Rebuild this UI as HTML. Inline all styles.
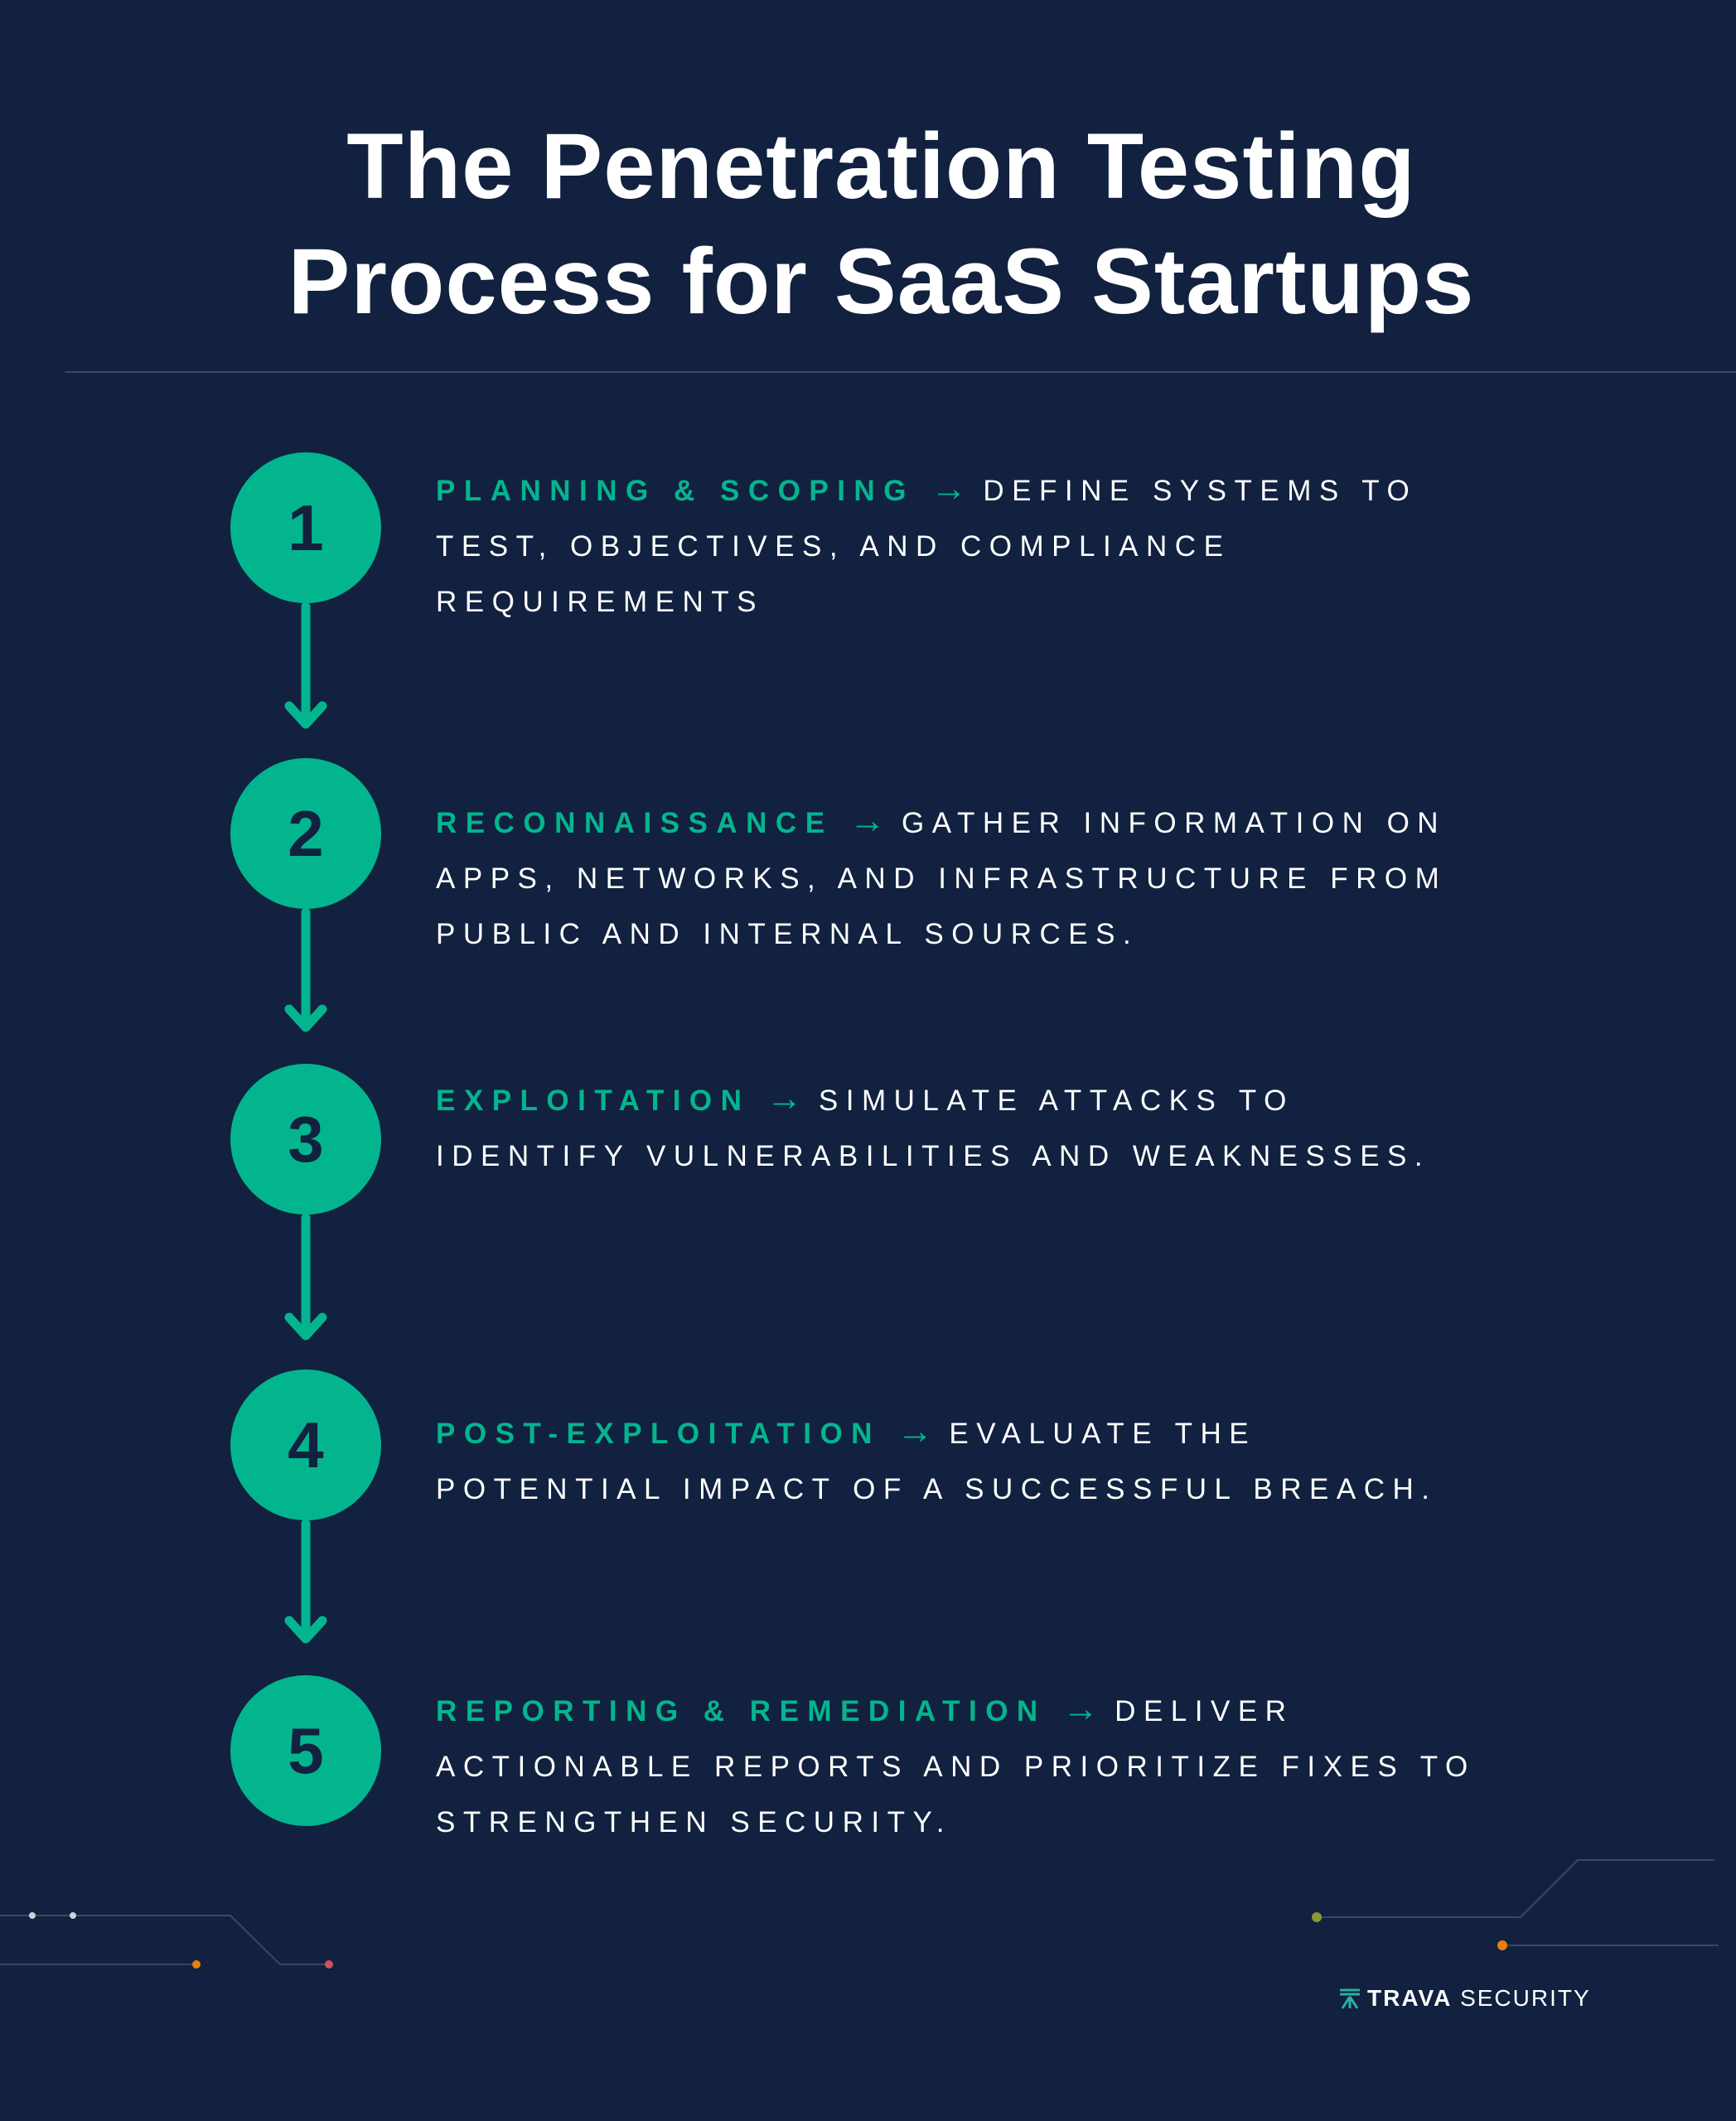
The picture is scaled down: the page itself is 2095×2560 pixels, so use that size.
<!DOCTYPE html>
<html><head><meta charset="utf-8"><style>
html,body{margin:0;padding:0}
body{width:2095px;height:2560px;background:#11213f;position:relative;overflow:hidden;font-family:"Liberation Sans",sans-serif}
.title{position:absolute;left:16px;width:2095px;text-align:center;color:#fff;font-weight:bold;font-size:112px;letter-spacing:1px;line-height:1}
.c{position:absolute;left:278px;width:182px;height:182px;border-radius:50%;background:#03b58e;color:#11213f;font-weight:bold;font-size:78px;text-align:center;line-height:182px}
.t{position:absolute;left:526px;color:#fff;font-size:35px;letter-spacing:9.5px;line-height:1;white-space:nowrap}
.g{color:#03b58e;font-weight:bold;letter-spacing:10.5px}
.a{color:#03b58e;font-size:44px;font-weight:bold;letter-spacing:0;line-height:0}
</style></head><body>
<div class="title" style="top:145px">The Penetration Testing</div>
<div class="title" style="top:284px">Process for SaaS Startups</div>
<div style="position:absolute;left:78px;top:448px;width:2017px;height:2px;background:#3a4862"></div>

<div class="c" style="top:546px">1</div>
<div class="c" style="top:915px">2</div>
<div class="c" style="top:1284px">3</div>
<div class="c" style="top:1653px">4</div>
<div class="c" style="top:2022px">5</div>

<svg width="2095" height="2560" style="position:absolute;left:0;top:0" fill="none">
<g stroke="#03b58e" stroke-width="11" stroke-linecap="round" stroke-linejoin="round">
<path d="M369 732V872M349 852L369 874L389 852"/>
<path d="M369 1101V1238M349 1218L369 1240L389 1218"/>
<path d="M369 1470V1610M349 1590L369 1612L389 1590"/>
<path d="M369 1839V1976M349 1956L369 1978L389 1956"/>
</g>
<g stroke="#3a4862" stroke-width="2">
<path d="M0 2312H278L338 2371H397"/>
<path d="M0 2371H237"/>
<path d="M1589 2314H1835L1904 2245H2069"/>
<path d="M1813 2348H2074"/>
</g>
<circle cx="39" cy="2312" r="4" fill="#c8d4dc"/>
<circle cx="88" cy="2312" r="4" fill="#c8d4dc"/>
<circle cx="237" cy="2371" r="5" fill="#e8800a"/>
<circle cx="397" cy="2371" r="5" fill="#d05060"/>
<circle cx="1589" cy="2314" r="6" fill="#8a9a30"/>
<circle cx="1813" cy="2348" r="6" fill="#e8800a"/>
<g stroke="#2ab0a0" stroke-width="3"><path d="M1617 2402h24M1617 2407h24M1629 2410l-9 14M1629 2410l9 14M1629 2410v14"/></g>
</svg>
<div style="position:absolute;left:1650px;top:2398px;color:#fff;font-size:28px;letter-spacing:2px;line-height:1"><b>TRAVA</b> SECURITY</div>

<div class="t" style="top:575px"><span class="g">PLANNING &amp; SCOPING</span> <span class="a">→</span> DEFINE SYSTEMS TO</div>
<div class="t" style="top:642px">TEST, OBJECTIVES, AND COMPLIANCE</div>
<div class="t" style="top:709px">REQUIREMENTS</div>

<div class="t" style="top:976px"><span class="g">RECONNAISSANCE</span> <span class="a">→</span> GATHER INFORMATION ON</div>
<div class="t" style="top:1043px">APPS, NETWORKS, AND INFRASTRUCTURE FROM</div>
<div class="t" style="top:1110px">PUBLIC AND INTERNAL SOURCES.</div>

<div class="t" style="top:1311px"><span class="g">EXPLOITATION</span> <span class="a">→</span> SIMULATE ATTACKS TO</div>
<div class="t" style="top:1378px">IDENTIFY VULNERABILITIES AND WEAKNESSES.</div>

<div class="t" style="top:1713px"><span class="g">POST-EXPLOITATION</span> <span class="a">→</span> EVALUATE THE</div>
<div class="t" style="top:1780px">POTENTIAL IMPACT OF A SUCCESSFUL BREACH.</div>

<div class="t" style="top:2048px"><span class="g">REPORTING &amp; REMEDIATION</span> <span class="a">→</span> DELIVER</div>
<div class="t" style="top:2115px">ACTIONABLE REPORTS AND PRIORITIZE FIXES TO</div>
<div class="t" style="top:2182px">STRENGTHEN SECURITY.</div>
</body></html>
